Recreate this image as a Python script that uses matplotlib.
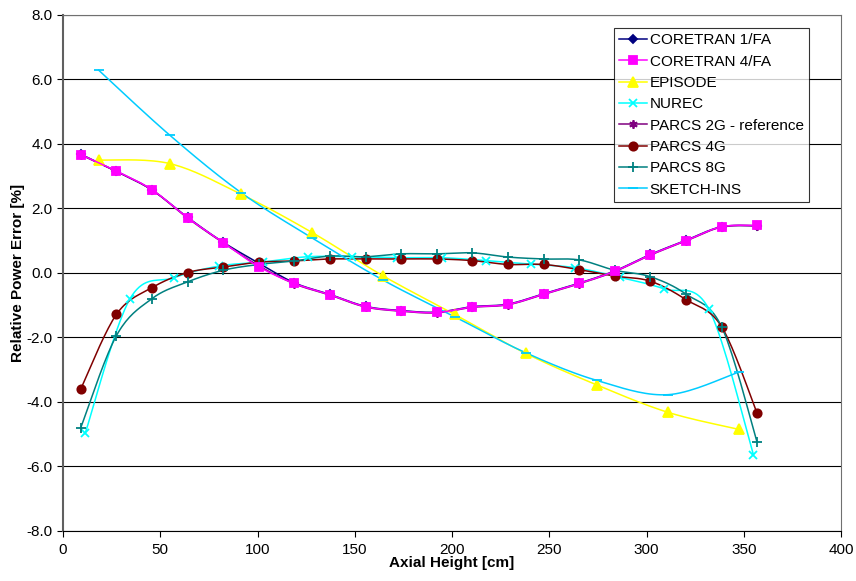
"""Relative axial power error of several codes versus axial height."""

import matplotlib

matplotlib.use("Agg")
import matplotlib.pyplot as plt
import numpy as np

plt.rcParams["font.family"] = ["Liberation Sans", "DejaVu Sans"]

# 20-node codes
NODE20_HEIGHT = [9.15, 27.45, 45.75, 64.05, 82.35, 100.65, 118.95, 137.25,
                 155.55, 173.85, 192.15, 210.45, 228.75, 247.05, 265.35,
                 283.65, 301.95, 320.25, 338.55, 356.85]
CORETRAN_1FA = [3.68, 3.15, 2.57, 1.72, 0.95, 0.30, -0.31, -0.67, -1.04, -1.17,
                -1.22, -1.05, -0.97, -0.65, -0.32, 0.06, 0.57, 1.01, 1.43, 1.46]
CORETRAN_4FA = [3.67, 3.16, 2.58, 1.71, 0.94, 0.19, -0.33, -0.68, -1.05, -1.18,
                -1.23, -1.06, -0.98, -0.66, -0.33, 0.05, 0.56, 1.00, 1.43, 1.47]
PARCS_2G = [3.66, 3.15, 2.57, 1.70, 0.93, 0.22, -0.34, -0.69, -1.06, -1.19,
            -1.24, -1.07, -0.99, -0.67, -0.34, 0.04, 0.55, 0.99, 1.42, 1.46]
PARCS_4G = [-3.60, -1.29, -0.46, 0.01, 0.18, 0.33, 0.37, 0.43, 0.43, 0.43,
            0.43, 0.38, 0.26, 0.26, 0.10, -0.10, -0.26, -0.83, -1.67, -4.36]
PARCS_8G = [-4.80, -1.95, -0.80, -0.28, 0.08, 0.26, 0.37, 0.52, 0.50, 0.59,
            0.59, 0.62, 0.49, 0.43, 0.40, 0.08, -0.12, -0.66, -1.67, -5.26]

# 16-node NUREC
NUREC_HEIGHT = [11.4, 34.3, 57.2, 80.1, 103.0, 125.9, 148.8, 171.7, 194.6,
                217.5, 240.4, 263.3, 286.2, 309.1, 332.0, 354.9]
NUREC = [-4.98, -0.82, -0.15, 0.21, 0.34, 0.50, 0.50, 0.47, 0.47, 0.38,
         0.27, 0.16, -0.14, -0.50, -1.12, -5.64]

# 10-node codes
NODE10_HEIGHT = [18.3, 54.9, 91.5, 128.1, 164.7, 201.3, 237.9, 274.5, 311.1, 347.7]
EPISODE = [3.50, 3.39, 2.44, 1.25, -0.10, -1.29, -2.50, -3.48, -4.33, -4.86]
SKETCH_INS = [6.29, 4.27, 2.49, 1.08, -0.23, -1.36, -2.48, -3.34, -3.78, -3.07]


def smooth(x, y, steps=20):
    """Excel-like smoothed line (Catmull-Rom as cubic Bezier segments)."""
    pts = np.column_stack([x, y]).astype(float)
    padded = np.vstack([pts[0], pts, pts[-1]])
    t = np.linspace(0.0, 1.0, steps)[:, None]
    out = []
    for i in range(len(pts) - 1):
        p0, p1, p2, p3 = padded[i], padded[i + 1], padded[i + 2], padded[i + 3]
        c1 = p1 + (p2 - p0) / 6.0
        c2 = p2 - (p3 - p1) / 6.0
        seg = ((1 - t) ** 3) * p1 + 3 * ((1 - t) ** 2) * t * c1 \
            + 3 * (1 - t) * t ** 2 * c2 + t ** 3 * p2
        out.append(seg if i == 0 else seg[1:])
    curve = np.vstack(out)
    return curve[:, 0], curve[:, 1]


SERIES = [
    ("CORETRAN 1/FA", NODE20_HEIGHT, CORETRAN_1FA, "#000080", "D", 4, 2),
    ("CORETRAN 4/FA", NODE20_HEIGHT, CORETRAN_4FA, "#FF00FF", "s", 6, 5),
    ("EPISODE", NODE10_HEIGHT, EPISODE, "#FFFF00", "^", 6.5, 4),
    ("NUREC", NUREC_HEIGHT, NUREC, "#00FFFF", "x", 6, 4),
    ("PARCS 2G - reference", NODE20_HEIGHT, PARCS_2G, "#800080", (6, 2, 0), 6, 3),
    ("PARCS 4G", NODE20_HEIGHT, PARCS_4G, "#800000", "o", 6, 4),
    ("PARCS 8G", NODE20_HEIGHT, PARCS_8G, "#008080", "+", 7, 4),
    ("SKETCH-INS", NODE10_HEIGHT, SKETCH_INS, "#00CCFF", "_", 7, 4),
]

fig = plt.figure(figsize=(8.56, 5.81), dpi=100)
ax = fig.add_axes([0.0736, 0.0866, 0.909, 0.8876])

for label, xs, ys, color, marker, msize, z in SERIES:
    sx, sy = smooth(xs, ys)
    ax.plot(sx, sy, color=color, linewidth=1.1, zorder=z)
    ax.plot(xs, ys, linestyle="none", marker=marker, markersize=msize,
            color=color, markeredgewidth=1.3, zorder=z + 0.5)
    ax.plot([], [], color=color, marker=marker, markersize=msize,
            markeredgewidth=1.3, linewidth=1.1, label=label)

ax.set_xlim(0, 400)
ax.set_ylim(-8, 8)
ax.set_xticks(np.arange(0, 401, 50))
ax.set_yticks(np.arange(-8, 8.1, 2))
ax.set_yticklabels([f"{v:.1f}" for v in np.arange(-8, 8.1, 2)])
ax.tick_params(axis="both", direction="out", length=4, labelsize=11,
               colors="black", width=0.8)
ax.tick_params(axis="x", pad=5)
ax.yaxis.grid(True, color="black", linewidth=0.8)
ax.set_axisbelow(True)

ax.spines["left"].set_color("#606060")
ax.spines["left"].set_linewidth(1.5)
ax.spines["bottom"].set_color("black")
ax.spines["top"].set_color("#707070")
ax.spines["right"].set_color("#707070")
ax.spines["right"].set_linewidth(0.8)

ax.set_xlabel("Axial Height [cm]", fontsize=11, fontweight="bold")
ax.set_ylabel("Relative Power Error [%]", fontsize=11, fontweight="bold")
ax.xaxis.set_label_coords(0.5, -0.05)
ax.yaxis.set_label_coords(-0.0488, 0.5)

leg = ax.legend(loc="upper right", bbox_to_anchor=(0.959, 0.975), fontsize=11,
                frameon=True, fancybox=False, edgecolor="black",
                handlelength=1.8, handletextpad=0.2, borderpad=0.35,
                labelspacing=0.48, borderaxespad=0)
leg.get_frame().set_linewidth(0.8)

fig.savefig("out.png", dpi=100)
